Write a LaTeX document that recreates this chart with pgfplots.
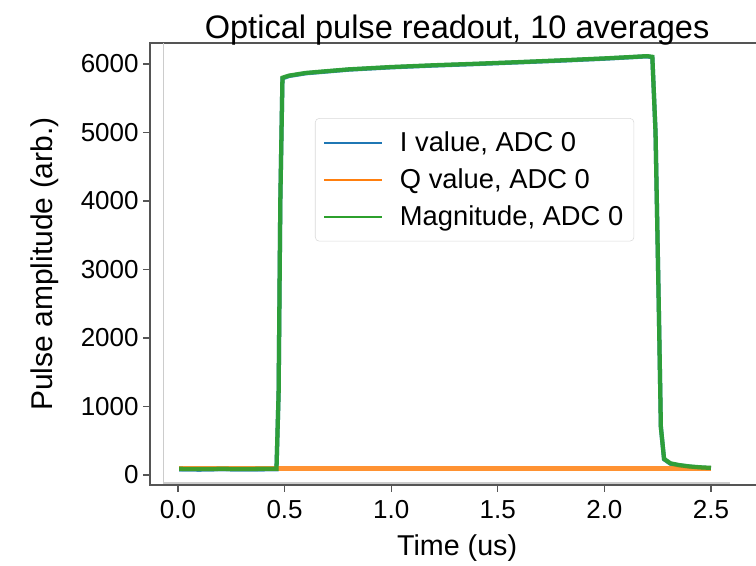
\documentclass[border=0pt]{standalone}
\usepackage{fontspec}
\setmainfont{Liberation Sans}
\usepackage{pgfplots}
\pgfplotsset{compat=1.18}
\definecolor{mplblue}{HTML}{1F77B4}
\definecolor{mplorange}{HTML}{FF7F0E}
\definecolor{mplgreen}{HTML}{2CA02C}
\definecolor{spine}{HTML}{555555}
\begin{document}
\begin{tikzpicture}
\begin{axis}[
  at={(0,0)}, anchor=south west,
  scale only axis,
  width=460.7pt, height=331.5pt,
  xmin=-0.1313, xmax=2.75,
  ymin=-146, ymax=6307,
  xtick={0,0.5,1,1.5,2,2.5},
  ytick={0,1000,2000,3000,4000,5000,6000},
  xticklabel style={yshift=-3pt, /pgf/number format/.cd, fixed, fixed zerofill, precision=1},
  yticklabel style={/pgf/number format/.cd, set thousands separator={}},
  /pgf/number format/assume math mode=true,
  tick label style={font=\fontsize{19.5}{23}\selectfont},
  title style={font=\fontsize{24.4}{28}\selectfont, yshift=-11pt},
  title={Optical pulse readout, 10 averages},
  xlabel={Time (us)},
  ylabel={Pulse amplitude (arb.)},
  every axis x label/.style={at={(axis description cs:0.5,-0.1425)}, anchor=center, font=\fontsize{21.5}{25}\selectfont},
  every axis y label/.style={at={(axis description cs:-0.171,0.5)}, anchor=center, rotate=90, font=\fontsize{22.5}{26}\selectfont},
  tick align=outside,
  xtick pos=bottom, ytick pos=left,
  major tick length=5pt,
  every tick/.style={spine, line width=1pt},
  axis line style={spine, line width=1.2pt},
  legend style={at={(0.2686,0.830)}, anchor=north west, draw=black!15,
    rounded corners=3pt, fill=white, fill opacity=0.8, text opacity=1,
    font=\fontsize{20.5}{25}\selectfont, row sep=7.5pt, inner xsep=6pt, inner ysep=8pt,
    /tikz/every odd column/.append style={column sep=11pt}},
  legend cell align=left,
  legend image post style={line width=1.5pt, opacity=1},
  legend image code/.code={\draw[#1] (0pt,0pt) -- (43pt,0pt);},
]
\draw[black!20, line width=0.8pt] (axis cs:-0.07,6307) -- (axis cs:-0.07,-117) -- (axis cs:2.59,-117);
\addplot[mplblue, line width=3.2pt, opacity=0.85] coordinates {
(0.005,82) (0.1,78) (0.2,84) (0.3,80) (0.4,82) (0.462,84) (0.472,1200) (0.48,4000) (0.49,5790)
(0.52,5825) (0.6,5865) (0.8,5918) (1.0,5952) (1.2,5978) (1.4,6000) (1.6,6025) (1.8,6050)
(2.0,6078) (2.1,6095) (2.2,6112) (2.225,6100) (2.24,5000) (2.255,2500) (2.265,700) (2.28,230)
(2.31,165) (2.35,140) (2.4,120) (2.45,108) (2.5,100)};
\addlegendentry{I value, ADC 0}
\addplot[mplorange, line width=3.2pt, opacity=0.85] coordinates {
(0.005,95) (0.5,95) (1.0,95) (1.5,95) (2.0,95) (2.5,95)};
\addlegendentry{Q value, ADC 0}
\addplot[mplgreen, line width=3.2pt, opacity=0.9] coordinates {
(0.005,90) (0.1,86) (0.2,90) (0.3,88) (0.4,90) (0.462,90) (0.472,1200) (0.48,4000) (0.49,5800)
(0.52,5830) (0.6,5870) (0.8,5922) (1.0,5956) (1.2,5982) (1.4,6004) (1.6,6028) (1.8,6054)
(2.0,6082) (2.1,6098) (2.2,6115) (2.225,6105) (2.24,5000) (2.255,2500) (2.265,700) (2.28,235)
(2.31,170) (2.35,145) (2.4,125) (2.45,112) (2.5,104)};
\addlegendentry{Magnitude, ADC 0}
\end{axis}
\pgfresetboundingbox
\path[use as bounding box] (-112.5pt,-60.75pt) rectangle (454.5pt,363.75pt);
\end{tikzpicture}
\end{document}
